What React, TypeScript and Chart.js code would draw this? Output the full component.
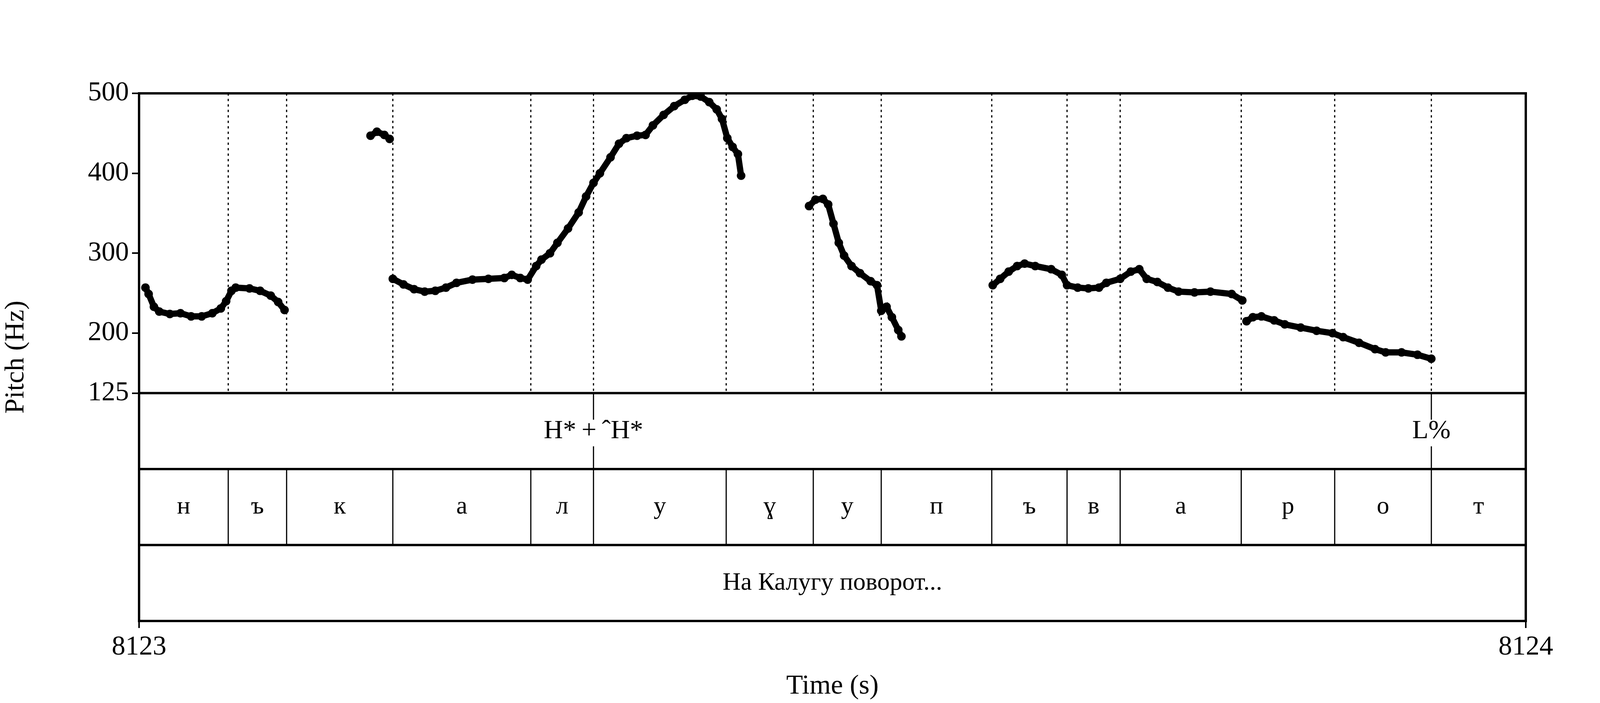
import React, { useEffect, useRef } from "react";
import { Chart, registerables } from "chart.js";
Chart.register(...registerables);

const T0 = 8123;
// segment boundaries (fraction of the second)
const boundaries = [0.0643, 0.1064, 0.183, 0.2825, 0.3277, 0.4234, 0.4862, 0.5352, 0.6149, 0.6692, 0.7075, 0.7948, 0.8622, 0.9319];
const segLabels = ["н", "ъ", "к", "а", "л", "у", "ɣ", "у", "п", "ъ", "в", "а", "р", "о", "т"];
const tones = [{ t: 0.3277, label: "H*\u2009+\u2009\u02C6H*" }, { t: 0.9319, label: "L%" }];
const wordLabel = "На Калугу поворот...";
const yTicks = [125, 200, 300, 400, 500];

// pitch contour pieces: [x fraction*1306 px offsets converted], Hz
const pitchX: (number | null)[] = [
  6, 9, 14, 19, 29, 39, 49, 59, 69, 77, 82, 87, 91, 104, 114, 124, 131, 137, null,
  218, 224, 231, 236, null,
  239, 249, 259, 269, 279, 289, 299, 314, 329, 344, 351, 359, 366, 374, 379, 387, 394, 404, 414, 421, 428, 434, 444, 452, 459, 469, 477, 484, 494, 504, 514, 521, 529, 537, 544, 549, 554, 559, 564, 567, null,
  631, 637, 644, 649, 654, 659, 664, 671, 679, 689, 695, 699, 704, 709, 715, 718, null,
  804, 811, 819, 827, 834, 844, 859, 869, 874, 884, 894, 904, 911, 924, 934, 942, 949, 959, 969, 979, 994, 1009, 1029, 1039, null,
  1043, 1049, 1057, 1069, 1079, 1094, 1109, 1124, 1134, 1149, 1164, 1174, 1189, 1204, 1217,
];
const pitchHz: (number | null)[] = [
  257, 249, 233, 227, 224, 225, 221, 221, 225, 231, 240, 253, 257, 256, 253, 247, 239, 229, null,
  447, 452, 448, 443, null,
  268, 261, 255, 252, 253, 257, 263, 267, 268, 269, 273, 269, 267, 284, 292, 300, 313, 331, 351, 371, 388, 400, 420, 437, 444, 447, 448, 460, 473, 484, 492, 497, 496, 489, 480, 468, 444, 433, 424, 397, null,
  359, 367, 368, 361, 337, 313, 297, 284, 275, 265, 260, 228, 233, 220, 204, 196, null,
  260, 268, 277, 284, 287, 284, 280, 273, 260, 257, 256, 257, 263, 268, 277, 280, 268, 264, 257, 252, 251, 252, 249, 241, null,
  215, 220, 221, 216, 211, 207, 203, 200, 195, 188, 180, 176, 176, 173, 168,
];

const FONT = "'Liberation Serif', 'Times New Roman', serif";

export default function App() {
  const ref = useRef<HTMLCanvasElement>(null);
  useEffect(() => {
    document.body.style.margin = "0";
    const data = pitchX.map((x, i) => (x === null || pitchHz[i] === null ? { x: NaN, y: NaN } : { x: T0 + (x as number) / 1306, y: pitchHz[i] as number }));
    const yLo = -160;
    const tierPlugin = {
      id: "tiers",
      afterDraw(chart: any) {
        const c = chart.ctx;
        const xs = chart.scales.x, ys = chart.scales.y;
        const L = xs.left, R = xs.right;
        const pTop = ys.getPixelForValue(500);
        const p125 = ys.getPixelForValue(125);
        const bot = ys.getPixelForValue(yLo);
        const h = (bot - p125) / 3;
        const t1 = p125 + h, t2 = p125 + 2 * h;
        c.save();
        c.strokeStyle = "#000";
        // dotted boundaries in pitch area
        c.lineWidth = 3;
        c.setLineDash([6, 8]);
        for (const b of boundaries) {
          const x = xs.getPixelForValue(T0 + b);
          c.beginPath(); c.moveTo(x, pTop); c.lineTo(x, p125); c.stroke();
        }
        c.setLineDash([]);
        // segment tier lines
        c.lineWidth = 3;
        for (const b of boundaries) {
          const x = xs.getPixelForValue(T0 + b);
          c.beginPath(); c.moveTo(x, t1); c.lineTo(x, t2); c.stroke();
        }
        // tone marks
        c.fillStyle = "#000";
        c.textAlign = "center"; c.textBaseline = "middle";
        c.font = `68px ${FONT}`;
        for (const t of tones) {
          const x = xs.getPixelForValue(T0 + t.t);
          c.beginPath(); c.moveTo(x, p125); c.lineTo(x, p125 + h * 0.35); c.stroke();
          c.beginPath(); c.moveTo(x, t1 - h * 0.3); c.lineTo(x, t1); c.stroke();
          c.fillText(t.label, x, p125 + h / 2);
        }
        // segment labels
        c.font = `64px ${FONT}`;
        const edges = [0, ...boundaries, 1];
        for (let i = 0; i < segLabels.length; i++) {
          const x = xs.getPixelForValue(T0 + (edges[i] + edges[i + 1]) / 2);
          c.fillText(segLabels[i], x, t1 + h / 2);
        }
        c.fillText(wordLabel, (L + R) / 2, t2 + h / 2);
        // frame and tier separators
        c.lineWidth = 6;
        c.strokeRect(L, pTop, R - L, bot - pTop);
        for (const y of [p125, t1, t2]) {
          c.beginPath(); c.moveTo(L, y); c.lineTo(R, y); c.stroke();
        }
        c.restore();
      },
    };
    const chart = new Chart(ref.current!, {
      type: "scatter",
      data: {
        datasets: [{
          data,
          showLine: true,
          spanGaps: false,
          borderColor: "#000",
          borderWidth: 16,
          backgroundColor: "#000",
          pointRadius: 11,
          pointBorderWidth: 0,
        }],
      },
      plugins: [tierPlugin],
      options: {
        animation: false,
        responsive: false,
        devicePixelRatio: 1,
        layout: { padding: { left: 0, top: 239, right: 294, bottom: 0 } },
        plugins: { legend: { display: false }, tooltip: { enabled: false } },
        scales: {
          x: {
            type: "linear", min: T0, max: T0 + 1,
            afterBuildTicks: (s: any) => { s.ticks = [{ value: T0 }, { value: T0 + 1 }]; },
            afterFit: (s: any) => { s.height = 210; },
            ticks: { color: "#000", font: { family: FONT, size: 70 }, padding: 8, callback: (v: any) => String(v) },
            grid: { drawOnChartArea: false, drawTicks: true, tickLength: 18, color: "#000", lineWidth: 4 },
            border: { display: false },
            title: { display: true, text: "Time (s)", color: "#000", font: { family: FONT, size: 70 }, padding: 0 },
          },
          y: {
            type: "linear", min: yLo, max: 500,
            afterBuildTicks: (s: any) => { s.ticks = yTicks.map((v) => ({ value: v })); },
            afterFit: (s: any) => { s.width = 356; },
            ticks: { color: "#000", font: { family: FONT, size: 70 }, padding: 8 },
            grid: { drawOnChartArea: false, drawTicks: true, tickLength: 18, color: "#000", lineWidth: 4 },
            border: { display: false },
            title: { display: true, text: "Pitch (Hz)", color: "#000", font: { family: FONT, size: 70 }, padding: { top: 0, bottom: 0 } },
          },
        },
      },
    } as any);
    return () => chart.destroy();
  }, []);
  return <canvas ref={ref} width={4200} height={1800} style={{ display: "block" }} />;
}
